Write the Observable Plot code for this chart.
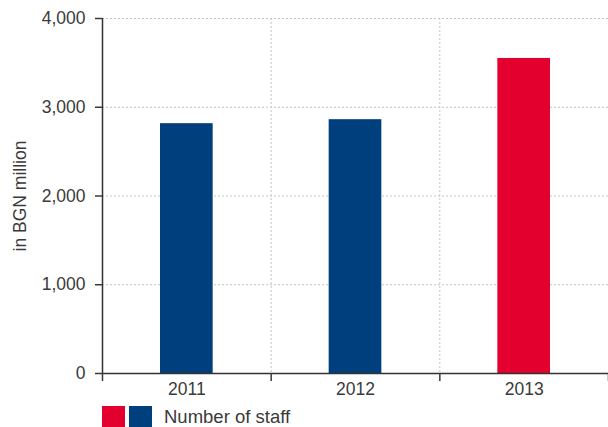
<!DOCTYPE html>
<html><head><meta charset="utf-8">
<script src="https://cdn.jsdelivr.net/npm/d3@7"></script>
<script src="https://cdn.jsdelivr.net/npm/@observablehq/plot@0.6"></script>
<style>
body{margin:0;background:#fff;font-family:"Liberation Sans",Arial,sans-serif;}
#wrap{position:relative;width:608px;height:427px;overflow:hidden;}
#legend{position:absolute;left:102px;top:406px;display:flex;align-items:center;font-size:18.5px;color:#3a3a3a;height:21px;}
#legend span.sw{display:inline-block;width:23px;height:21px;margin-right:4px;}
#legend span.tx{margin-left:8px;}
</style>
</head><body><div id="wrap"><div id="chart"></div><div id="legend"></div></div>
<script>
const years = ["2011", "2012", "2013"];
const values = [2815, 2860, 3550];
const barColors = ["#003f7d", "#003f7d", "#e3002f"];
const yTicks = [0, 1000, 2000, 3000, 4000];
const yLabel = "in BGN million";
const legendLabel = "Number of staff";
const legendColors = ["#e3002f", "#003f7d"];

const data = years.map((year, i) => ({year, i, value: values[i], color: barColors[i]}));
const slots = years.map((_, i) => i);
const bounds = [0, ...years.map((_, i) => i + 1)];

const chart = Plot.plot({
  width: 608,
  height: 400,
  marginLeft: 102,
  marginRight: 0,
  marginTop: 18,
  marginBottom: 27,
  style: {fontSize: "17.5px", fontFamily: "'Liberation Sans', Arial, sans-serif", color: "#3a3a3a", background: "#fff"},
  x: {type: "linear", domain: [0, years.length]},
  y: {domain: [0, 4000]},
  marks: [
    Plot.ruleY(yTicks.slice(1), {stroke: "#c4c4c4", strokeDasharray: "2,2"}),
    Plot.ruleX(bounds.slice(1, -1), {stroke: "#c4c4c4", strokeDasharray: "2,2"}),
    Plot.rectY(data, {x1: "i", x2: d => d.i + 1, y: "value", fill: "color", insetLeft: 58, insetRight: 58}),
    Plot.ruleY([0], {stroke: "#333", strokeWidth: 1.5}),
    Plot.ruleX([0], {stroke: "#333", strokeWidth: 1.5}),
    Plot.axisY({ticks: yTicks, tickSize: 7, tickPadding: 10, tickFormat: d3.format(","), label: yLabel, labelAnchor: "center", labelOffset: 89, labelArrow: "none", strokeWidth: 1.5, fontSize: 17.5}),
    Plot.axisX({ticks: bounds, tickSize: 8, tickFormat: () => "", label: null, strokeWidth: 1.5}),
    Plot.axisX({ticks: slots.map(i => i + 0.5), tickSize: 0, tickPadding: 9, tickFormat: d => years[Math.floor(d)], label: null, fontSize: 17.5})
  ]
});
document.getElementById("chart").append(chart);

const legend = document.getElementById("legend");
legendColors.forEach(c => {
  const s = document.createElement("span");
  s.className = "sw";
  s.style.background = c;
  legend.append(s);
});
const t = document.createElement("span");
t.className = "tx";
t.textContent = legendLabel;
legend.append(t);
</script>
</body></html>
